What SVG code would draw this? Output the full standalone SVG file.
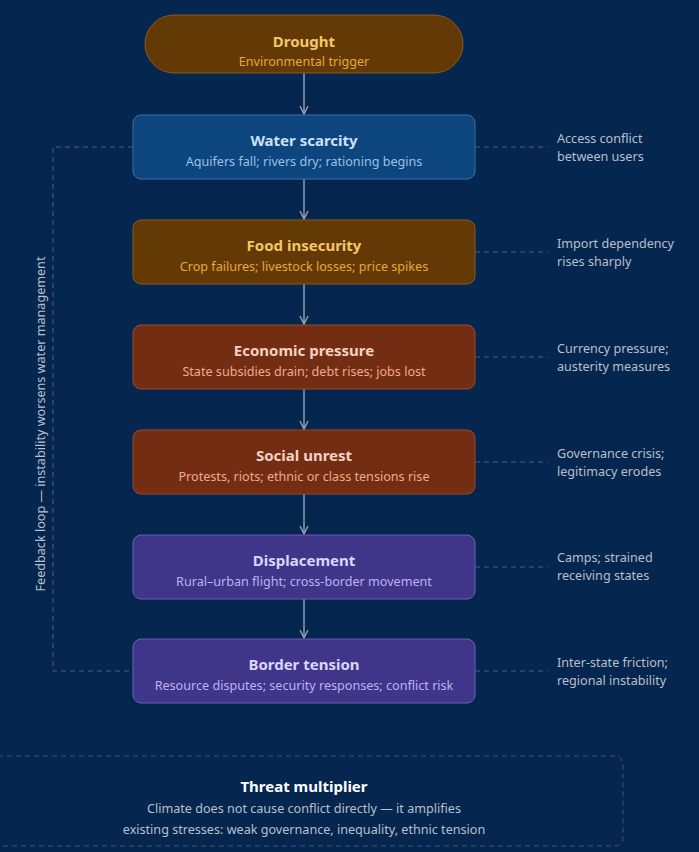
<svg xmlns="http://www.w3.org/2000/svg" width="699" height="852" viewBox="0 0 699 852">
<defs>
<marker id="ah" markerWidth="10" markerHeight="10" refX="9" refY="5" orient="auto" markerUnits="userSpaceOnUse"><path d="M1,1 L9,5 L1,9" fill="none" stroke="#9aa3ae" stroke-width="1.4"/></marker>
</defs>
<style>
text{font-family:"Noto Sans","Open Sans",sans-serif;text-anchor:middle}
.t{font-size:15px;font-weight:bold}
.s{font-size:12.6px}
.side{font-size:12.6px;fill:#b8c0cc;text-anchor:start}
.ln{stroke:#9aa3ae;stroke-width:1.4;fill:none}
.dl{stroke:#4a5f80;stroke-width:1;stroke-dasharray:5 4;fill:none}
</style>
<rect width="699" height="852" fill="#05264f"/>
<g id="connectors">
<line class="ln" x1="304" y1="73" x2="304" y2="114" marker-end="url(#ah)"/>
<line class="ln" x1="304" y1="179" x2="304" y2="219" marker-end="url(#ah)"/>
<line class="ln" x1="304" y1="284" x2="304" y2="324" marker-end="url(#ah)"/>
<line class="ln" x1="304" y1="389" x2="304" y2="429" marker-end="url(#ah)"/>
<line class="ln" x1="304" y1="494" x2="304" y2="534" marker-end="url(#ah)"/>
<line class="ln" x1="304" y1="599" x2="304" y2="638" marker-end="url(#ah)"/>
<path class="dl" d="M133,147 H53 V671 H133"/>
<line class="dl" x1="475" y1="147" x2="548" y2="147"/>
<line class="dl" x1="475" y1="252" x2="548" y2="252"/>
<line class="dl" x1="475" y1="357" x2="548" y2="357"/>
<line class="dl" x1="475" y1="462" x2="548" y2="462"/>
<line class="dl" x1="475" y1="567" x2="548" y2="567"/>
<line class="dl" x1="475" y1="671" x2="548" y2="671"/>
</g>
<text class="s" fill="#b8c0cc" transform="translate(45,424) rotate(-90)">Feedback loop — instability worsens water management</text>
<g id="drought"><rect x="145" y="15" width="318" height="58" rx="29" fill="#633a06" stroke="#8a5a1a"/><text class="t" x="304" y="47" fill="#f5c66a">Drought</text><text class="s" x="304" y="66" fill="#e8a83a">Environmental trigger</text></g>
<g id="water"><rect x="133" y="115" width="342" height="64" rx="8" fill="#0d467e" stroke="#3a6fa8"/><text class="t" x="304" y="146" fill="#cfe0f5">Water scarcity</text><text class="s" x="304" y="166" fill="#9cc0e6">Aquifers fall; rivers dry; rationing begins</text></g>
<g id="food"><rect x="133" y="220" width="342" height="64" rx="8" fill="#633a06" stroke="#8a5a1a"/><text class="t" x="304" y="251" fill="#f5c66a">Food insecurity</text><text class="s" x="304" y="271" fill="#e8a83a">Crop failures; livestock losses; price spikes</text></g>
<g id="economic"><rect x="133" y="325" width="342" height="64" rx="8" fill="#732d13" stroke="#9a4a2a"/><text class="t" x="304" y="356" fill="#f5d2c2">Economic pressure</text><text class="s" x="304" y="376" fill="#f0aa90">State subsidies drain; debt rises; jobs lost</text></g>
<g id="social"><rect x="133" y="430" width="342" height="64" rx="8" fill="#732d13" stroke="#9a4a2a"/><text class="t" x="304" y="461" fill="#f5d2c2">Social unrest</text><text class="s" x="304" y="481" fill="#f0aa90">Protests, riots; ethnic or class tensions rise</text></g>
<g id="displacement"><rect x="133" y="535" width="342" height="64" rx="8" fill="#3f3589" stroke="#6a5fb5"/><text class="t" x="304" y="566" fill="#dcd6fa">Displacement</text><text class="s" x="304" y="586" fill="#bdb3f0">Rural–urban flight; cross-border movement</text></g>
<g id="border"><rect x="133" y="639" width="342" height="64" rx="8" fill="#3f3589" stroke="#6a5fb5"/><text class="t" x="304" y="670" fill="#dcd6fa">Border tension</text><text class="s" x="304" y="690" fill="#bdb3f0">Resource disputes; security responses; conflict risk</text></g>
<g id="sides">
<text class="side" x="557" y="143">Access conflict</text><text class="side" x="557" y="161">between users</text>
<text class="side" x="557" y="248">Import dependency</text><text class="side" x="557" y="266">rises sharply</text>
<text class="side" x="557" y="353">Currency pressure;</text><text class="side" x="557" y="371">austerity measures</text>
<text class="side" x="557" y="458">Governance crisis;</text><text class="side" x="557" y="476">legitimacy erodes</text>
<text class="side" x="557" y="562">Camps; strained</text><text class="side" x="557" y="580">receiving states</text>
<text class="side" x="557" y="667">Inter-state friction;</text><text class="side" x="557" y="685">regional instability</text>
</g>
<g id="threat"><rect x="-10" y="756" width="633" height="90" rx="8" fill="none" stroke="#3e557a" stroke-dasharray="5 4"/><text class="t" x="304" y="792" fill="#ffffff">Threat multiplier</text><text class="s" x="304" y="813" fill="#b8c0cc">Climate does not cause conflict directly — it amplifies</text><text class="s" x="304" y="834" fill="#b8c0cc">existing stresses: weak governance, inequality, ethnic tension</text></g>
</svg>
